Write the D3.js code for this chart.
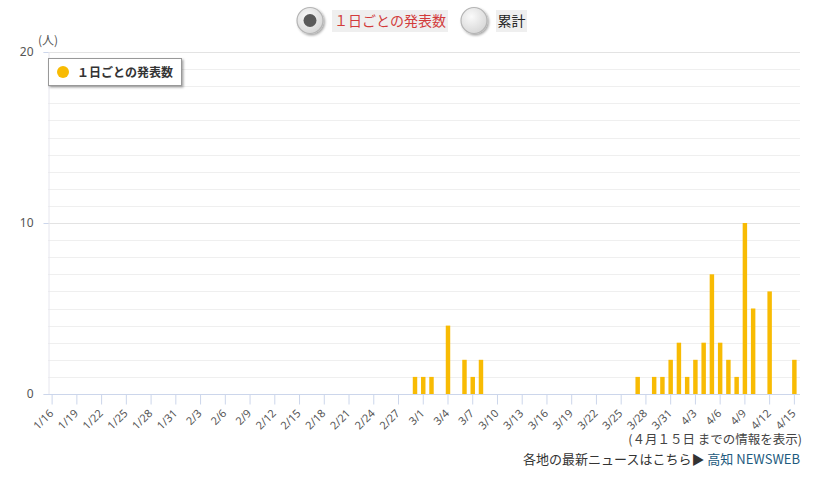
<!DOCTYPE html>
<html><head><meta charset="utf-8">
<script src="https://cdn.jsdelivr.net/npm/d3@7"></script>
<style>
html,body{margin:0;padding:0;background:#fff;}
svg{display:block;font-family:"Noto Sans CJK JP","Noto Sans",sans-serif;}
</style></head>
<body>
<svg id="chart" width="820" height="479"></svg>
<script>
const dates = [
 "1/16","1/17","1/18","1/19","1/20","1/21","1/22","1/23","1/24","1/25","1/26","1/27","1/28","1/29","1/30","1/31",
 "2/1","2/2","2/3","2/4","2/5","2/6","2/7","2/8","2/9","2/10","2/11","2/12","2/13","2/14","2/15","2/16","2/17","2/18","2/19","2/20","2/21","2/22","2/23","2/24","2/25","2/26","2/27","2/28","2/29",
 "3/1","3/2","3/3","3/4","3/5","3/6","3/7","3/8","3/9","3/10","3/11","3/12","3/13","3/14","3/15","3/16","3/17","3/18","3/19","3/20","3/21","3/22","3/23","3/24","3/25","3/26","3/27","3/28","3/29","3/30","3/31",
 "4/1","4/2","4/3","4/4","4/5","4/6","4/7","4/8","4/9","4/10","4/11","4/12","4/13","4/14","4/15"];
const dailyCounts = [
 0,0,0,0,0,0,0,0,0,0,0,0,0,0,0,0,
 0,0,0,0,0,0,0,0,0,0,0,0,0,0,0,0,0,0,0,0,0,0,0,0,0,0,0,0,1,
 1,1,0,4,0,2,1,2,0,0,0,0,0,0,0,0,0,0,0,0,0,0,0,0,0,0,1,0,1,1,2,
 3,1,2,3,7,3,2,1,10,5,0,6,0,0,2];
const xTickLabels = ["1/16","1/19","1/22","1/25","1/28","1/31","2/3","2/6","2/9","2/12","2/15","2/18","2/21","2/24","2/27","3/1","3/4","3/7","3/10","3/13","3/16","3/19","3/22","3/25","3/28","3/31","4/3","4/6","4/9","4/12","4/15"];
const yTickLabels = [0, 10, 20];
const yGridValues = d3.range(0, 21, 1);
const seriesName = "１日ごとの発表数";
const toggleLabels = ["１日ごとの発表数", "累計"];

const svg = d3.select("#chart");
const plot = {left: 48, right: 798.5, top: 52, bottom: 394};

const x = d3.scaleBand().domain(dates).range([plot.left, plot.right]).paddingInner(0.46).paddingOuter(0.23);
const y = d3.scaleLinear().domain([0, 20]).range([plot.bottom, plot.top]);

const defs = svg.append("defs");
const grad = defs.append("radialGradient").attr("id","rg").attr("cx","40%").attr("cy","35%").attr("r","70%");
grad.append("stop").attr("offset","0%").attr("stop-color","#fafafa");
grad.append("stop").attr("offset","100%").attr("stop-color","#d6d6d6");
const sh = defs.append("filter").attr("id","sh").attr("x","-20%").attr("y","-20%").attr("width","150%").attr("height","160%");
sh.append("feDropShadow").attr("dx",1.5).attr("dy",1.5).attr("stdDeviation",1).attr("flood-color","#000").attr("flood-opacity",0.35);

// gridlines
svg.append("g").selectAll("line").data(yGridValues).join("line")
  .attr("x1", plot.left).attr("x2", 800)
  .attr("y1", d => Math.round(y(d)) + 0.5).attr("y2", d => Math.round(y(d)) + 0.5)
  .attr("stroke", d => d % 10 === 0 ? "#e3e3e3" : "#efefef").attr("stroke-width", 1);

// y axis
const yAxis = d3.axisLeft(y).tickValues(yTickLabels).tickSize(5).tickPadding(10);
const gy = svg.append("g").attr("transform", `translate(${plot.left + 0.5},0)`).call(yAxis);
gy.select(".domain").attr("stroke", "#e6e6ee");
gy.selectAll(".tick line").attr("stroke", "#ccd6eb");
gy.selectAll(".tick text").attr("fill", "#555").style("font-size", "12px").attr("font-family", "'Noto Sans',sans-serif");

svg.append("text").attr("x", 38).attr("y", 45).attr("fill", "#555").style("font-size", "12px").text("(人)");

// bars
svg.append("g").selectAll("rect").data(dates.map((d, i) => ({d, v: dailyCounts[i]})).filter(o => o.v > 0)).join("rect")
  .attr("x", o => x(o.d)).attr("width", x.bandwidth())
  .attr("y", o => y(o.v)).attr("height", o => y(0) - y(o.v))
  .attr("fill", "#f8bb03");

// x axis
const xAxis = d3.axisBottom(x).tickValues(xTickLabels).tickSize(10).tickSizeOuter(0);
const gx = svg.append("g").attr("transform", `translate(0,${plot.bottom + 0.5})`).call(xAxis);
gx.select(".domain").attr("stroke", "#ccd6eb").attr("d", `M${plot.left},0H800`);
gx.selectAll(".tick line").attr("stroke", "#ccd6eb");
gx.selectAll(".tick text").attr("fill", "#555").style("font-size", "11px")
  .attr("font-family", "'Noto Sans',sans-serif")
  .attr("text-anchor", "end").attr("dy", null).attr("y", 0)
  .attr("transform", "translate(2,19.5) rotate(-45)");

// legend
const lg = svg.append("g");
lg.append("rect").attr("x", 48.5).attr("y", 58.5).attr("width", 133).attr("height", 27)
  .attr("fill", "#fff").attr("stroke", "#999").attr("filter", "url(#sh)");
lg.append("circle").attr("cx", 63).attr("cy", 72).attr("r", 6).attr("fill", "#f8bb03");
lg.append("text").attr("x", 77).attr("y", 76.5).attr("fill", "#333").style("font-size", "12px")
  .attr("font-weight", "bold").text(seriesName);

// toggle buttons
const tg = svg.append("g");
const btns = [{cx: 310, lx: 332, lw: 116, color: "#d23b3b", on: true}, {cx: 474, lx: 496, lw: 31, color: "#222", on: false}];
btns.forEach((b, i) => {
  tg.append("circle").attr("cx", b.cx).attr("cy", 20.5).attr("r", 13).attr("fill", "url(#rg)")
    .attr("stroke", "#b5b5b5").attr("stroke-width", 1.2).attr("filter", "url(#sh)");
  if (b.on) tg.append("circle").attr("cx", b.cx).attr("cy", 20.5).attr("r", 6.5).attr("fill", "#5a5a5a");
  tg.append("rect").attr("x", b.lx).attr("y", 10).attr("width", b.lw).attr("height", 22).attr("fill", "#efefef");
  tg.append("text").attr("x", b.lx + b.lw / 2).attr("y", 26).attr("text-anchor", "middle")
    .attr("fill", b.color).style("font-size", "14px").text(toggleLabels[i]);
});

// footer
svg.append("text").attr("x", 802).attr("y", 444).attr("text-anchor", "end").attr("fill", "#444")
  .style("font-size", "12.5px").text("(４月１５日 までの情報を表示)");
const ft = svg.append("text").attr("x", 800).attr("y", 464).attr("text-anchor", "end").style("font-size", "13px");
ft.append("tspan").attr("fill", "#333").text("各地の最新ニュースはこちら▶ ");
ft.append("tspan").attr("fill", "#1d5b7e").text("高知 NEWSWEB");
</script>
</body></html>
